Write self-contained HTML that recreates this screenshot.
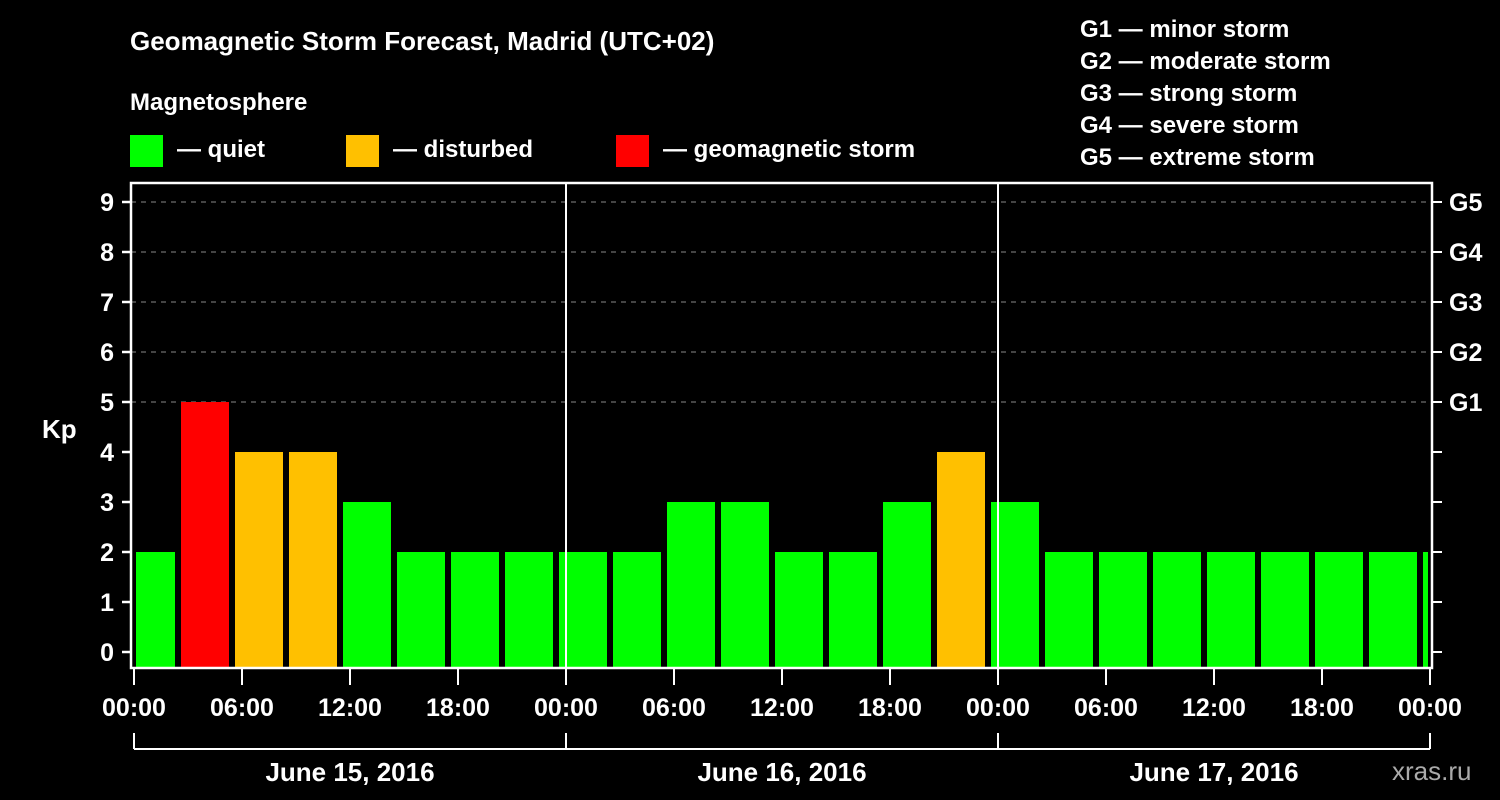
<!DOCTYPE html>
<html><head><meta charset="utf-8"><style>
body{margin:0;background:#000;}
svg{display:block;font-family:"Liberation Sans",Arial,sans-serif;font-weight:bold;}
</style></head><body>
<svg width="1500" height="800">
<rect width="1500" height="800" fill="#000"/>
<text x="130" y="50" fill="#fff" font-size="26">Geomagnetic Storm Forecast, Madrid (UTC+02)</text>
<text x="130" y="110" fill="#fff" font-size="24">Magnetosphere</text>
<g>
<rect x="130" y="135" width="33" height="32" fill="#00ff00"/>
<text x="177" y="157" fill="#fff" font-size="24">— quiet</text>
<rect x="346" y="135" width="33" height="32" fill="#ffc000"/>
<text x="393" y="157" fill="#fff" font-size="24">— disturbed</text>
<rect x="616" y="135" width="33" height="32" fill="#ff0000"/>
<text x="663" y="157" fill="#fff" font-size="24">— geomagnetic storm</text>
</g>
<g fill="#fff" font-size="24">
<text x="1080" y="37">G1 — minor storm</text>
<text x="1080" y="69">G2 — moderate storm</text>
<text x="1080" y="101">G3 — strong storm</text>
<text x="1080" y="133">G4 — severe storm</text>
<text x="1080" y="165">G5 — extreme storm</text>
</g>
<text x="42" y="438" fill="#fff" font-size="26">Kp</text>
<g id="plot"></g>
<text x="1392" y="780" fill="#aaa" font-size="26" font-weight="normal">xras.ru</text>
</svg>
<script>
const kpValues=[2,5,4,4,3,2,2,2,2,2,3,3,2,2,3,4,3,2,2,2,2,2,2,2,2];
const yTicks=[0,1,2,3,4,5,6,7,8,9];
const gLabels=["G1","G2","G3","G4","G5"];
const xTickLabels=["00:00","06:00","12:00","18:00","00:00","06:00","12:00","18:00","00:00","06:00","12:00","18:00","00:00"];
const dayLabels=["June 15, 2016","June 16, 2016","June 17, 2016"];
const NS="http://www.w3.org/2000/svg";
const g=document.getElementById('plot');
const L=131,R=1432,T=183,B=668,X0=134,PX_H=18;
const y=v=>652-v*50;
const x=h=>X0+h*PX_H;
function mk(tag,attrs,parent){const e=document.createElementNS(NS,tag);for(const k in attrs)e.setAttribute(k,attrs[k]);(parent||g).appendChild(e);return e;}
// grid
yTicks.forEach(v=>{
 if(v>=5){const l=mk('line',{x1:L,x2:R,y1:y(v),y2:y(v),stroke:'#888','stroke-dasharray':'5,5','stroke-width':1});
 
 }
});
// bars
kpValues.forEach((v,i)=>{
 const c=x(i*3+1.5)-10;let x1=Math.max(c-24,X0+2),x2=Math.min(c+24,R-4);
 const col=v>=5?'#ff0000':(v>=4?'#ffc000':'#00ff00');
 const r=mk('rect',{x:x1,y:y(v),width:x2-x1,height:B-y(v),fill:col});
 
 
});
// day separators
[1,2].forEach(d=>{const l=mk('line',{x1:x(d*24),x2:x(d*24),y1:T,y2:B,stroke:'#fff','stroke-width':2});
 
 });
// frame
const f=mk('rect',{x:L,y:T,width:R-L,height:B-T,fill:'none',stroke:'#fff','stroke-width':2.5});


// y ticks
yTicks.forEach(v=>{
 mk('line',{x1:122,x2:L,y1:y(v),y2:y(v),stroke:'#fff','stroke-width':2.5});
 mk('line',{x1:R,x2:1442,y1:y(v),y2:y(v),stroke:'#fff','stroke-width':2});
 const t=mk('text',{x:114,y:y(v)+9,fill:'#fff','font-size':25,'text-anchor':'end'});t.textContent=v;
 
 
});
gLabels.forEach((s,i)=>{const t=mk('text',{x:1449,y:y(5+i)+9,fill:'#fff','font-size':25});t.textContent=s;
 
 });
// x ticks
xTickLabels.forEach((s,i)=>{const xx=x(i*6);
 mk('line',{x1:xx,x2:xx,y1:B,y2:685,stroke:'#fff','stroke-width':2});
 const t=mk('text',{x:xx,y:716,fill:'#fff','font-size':25,'text-anchor':'middle'});t.textContent=s;
 
 });
// date bracket
mk('line',{x1:x(0),x2:x(72),y1:749,y2:749,stroke:'#fff','stroke-width':2});
[0,1,2,3].forEach(d=>mk('line',{x1:x(d*24),x2:x(d*24),y1:733,y2:749,stroke:'#fff','stroke-width':2}));
dayLabels.forEach((s,d)=>{const t=mk('text',{x:x(d*24+12),y:781,fill:'#fff','font-size':26,'text-anchor':'middle'});t.textContent=s;
 
 });
</script>
</body></html>
